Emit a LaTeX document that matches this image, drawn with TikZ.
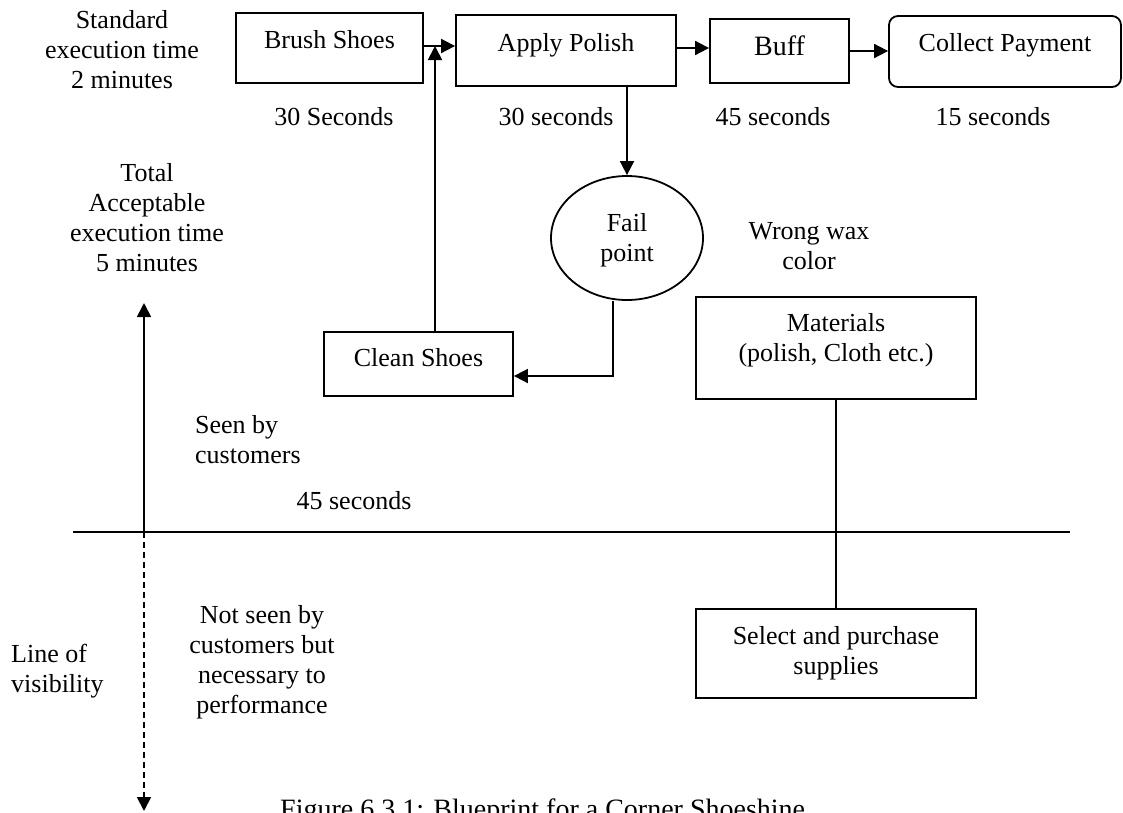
\documentclass[tikz,border=0pt]{standalone}
\usepackage{fontspec}
\setmainfont{Liberation Serif}
\usetikzlibrary{arrows.meta,shapes.geometric}
\begin{document}
\begin{tikzpicture}[x=1pt,y=-1pt,
  every node/.style={font=\fontsize{26}{30}\selectfont},
  box/.style={draw, line width=1.8pt, rectangle, inner sep=0pt, text height=18pt},
  lbl/.style={inner sep=0pt, anchor=north, align=center},
  lbll/.style={inner sep=0pt, anchor=north west, align=left},
  arr/.style={line width=1.8pt, -{Triangle[length=14pt,width=14pt]}},
  ln/.style={line width=1.8pt}]
\useasboundingbox (0,0) rectangle (1123,812);
\clip (0,0) rectangle (1123,812);

% process boxes
\node[box, minimum width=187pt, minimum height=70pt, text depth=18pt] (brush) at (329.5,48) {Brush Shoes};
\node[box, minimum width=220pt, minimum height=71pt, text depth=17pt] (apply) at (566,50.5) {Apply Polish};
\node[box, minimum width=139pt, minimum height=64pt, text height=19pt, text depth=10pt, font=\fontsize{28}{32}\selectfont] (buff) at (779.5,51) {Buff};
\node[box, rounded corners=9pt, minimum width=232pt, minimum height=71pt, text depth=19pt] (collect) at (1005,51.5) {Collect Payment\hspace{10pt}};
\node[box, minimum width=189pt, minimum height=64pt, text depth=14pt] (clean) at (418.5,364) {Clean Shoes};
\node[box, align=center, minimum width=280pt, minimum height=102pt, text height=48pt, text depth=21pt] (materials) at (836,348) {Materials\\(polish, Cloth etc.)};
\node[box, align=center, minimum width=280pt, minimum height=89pt, text height=48pt, text depth=6pt] (select) at (836,653.5) {Select and purchase\\supplies};
\node[draw, ellipse, line width=1.8pt, inner sep=0pt, align=center, minimum width=152pt, minimum height=124pt, text height=48pt, text depth=2pt] (fail) at (627,238) {Fail\\point};

% free labels
\node[lbl] (std) at (122,10.5) {Standard\\execution time\\2 minutes};
\node[lbl] (t1) at (334,107.5) {30 Seconds};
\node[lbl] (t2) at (556,107.5) {30 seconds};
\node[lbl] (t3) at (773,107.5) {45 seconds};
\node[lbl] (t4) at (993,107.5) {15 seconds};
\node[lbl] (total) at (147,163.5) {Total\\Acceptable\\execution time\\5 minutes};
\node[lbl] (wrong) at (809,222.5) {Wrong wax\\color};
\node[lbll] (seen) at (195,415.5) {Seen by\\customers};
\node[lbl] (t5) at (354,491.5) {45 seconds};
\node[lbl] (notseen) at (262,605.5) {Not seen by\\customers but\\necessary to\\performance};
\node[lbll] (lov) at (11,643.5) {Line of\\visibility};
\node[inner sep=0pt, anchor=north west, font=\fontsize{28}{32}\selectfont] (cap) at (280,799) {Figure 6.3.1: Blueprint for a Corner Shoeshine};

% connectors
\coordinate (j) at (435,46);
\draw[arr] (brush.east |- j) -- (apply.west |- j);
\draw[arr] (clean.north -| j) -- (j);
\draw[arr] ([yshift=2.5pt]apply.east) -- ([yshift=2.5pt]apply.east -| buff.west);
\draw[arr] (buff.east) -- (buff.east -| collect.west);
\draw[arr] (apply.south -| fail.north) -- (fail.north);
\coordinate (k) at (613,376);
\draw[arr] (k |- fail.south) -- (k) -- (k -| clean.east);
\draw[ln] (materials.south) -- (select.north);

% line of visibility
\coordinate (vl0) at (73,532);
\coordinate (vl1) at (1070,532);
\draw[ln] (vl0) -- (vl1);
\coordinate (va) at (144,532);
\coordinate (vt) at (144,303);
\coordinate (vb) at (144,811);
\draw[arr] (va) -- (vt);
\draw[arr, dash pattern=on 6pt off 4pt] (va) -- (vb);
\end{tikzpicture}
\end{document}
